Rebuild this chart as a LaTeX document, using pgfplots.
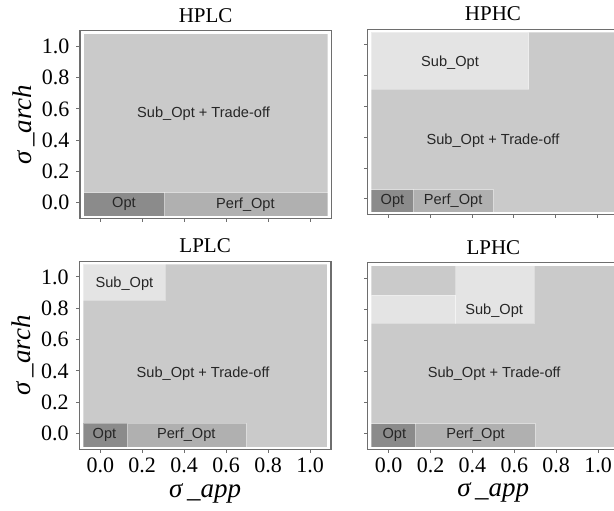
\documentclass[border=0pt]{standalone}
\usepackage{pgfplots}
\pgfplotsset{compat=1.18}
\usepackage{fontspec}
\setmainfont{Liberation Serif}
\newfontfamily\cellfont{Liberation Sans}
\definecolor{cOpt}{RGB}{139,139,139}
\definecolor{cPerf}{RGB}{176,176,176}
\definecolor{cMain}{RGB}{202,202,202}
\definecolor{cSub}{RGB}{228,228,228}
\definecolor{cFrame}{RGB}{110,110,110}
\newcommand{\rect}[5]{\addplot[fill=#5, draw=white, draw opacity=0.35, line width=0.4pt, mark=none] coordinates {(#1,#3) (#2,#3) (#2,#4) (#1,#4)} -- cycle;}
\newcommand{\lbl}[3]{\node[font=\cellfont\fontsize{7.3}{8}\selectfont, text=black!85] at (axis cs:#1,#2) {#3};}
\pgfplotsset{
  panel/.style={
    scale only axis,
    xmin=-0.1, xmax=1.1, ymin=-0.1, ymax=1.1,
    xtick={0,0.2,0.4,0.6,0.8,1.0},
    ytick={0,0.2,0.4,0.6,0.8,1.0},
    tick align=outside,
    xtick pos=bottom, ytick pos=left,
    major tick length=1.75pt,
    tick style={color=cFrame, line width=0.5pt},
    axis line style={draw=cFrame, line width=0.6pt},
    ticklabel style={font=\fontsize{11}{13}\selectfont},
    xticklabel style={inner sep=2.5pt},
    /pgf/number format/.cd, fixed, fixed zerofill, precision=1, assume math mode=true, /pgfplots/.cd,
    every axis title shift=0pt,
    title style={font=\fontsize{10.5}{12}\selectfont, inner sep=0pt, yshift=3.9pt},
    xlabel style={font=\fontsize{13.5}{15}\selectfont, inner sep=0pt, at={(axis description cs:0.5,-0.233)}, anchor=center},
    ylabel style={font=\fontsize{13.5}{15}\selectfont, at={(axis description cs:-0.225,0.5)}, anchor=center, rotate=0},
    no marks,
  }
}
\begin{document}
\begin{tikzpicture}
\useasboundingbox (0,0) rectangle (307pt,255pt);
\clip (0,0) rectangle (307pt,255pt);
% HPLC
\begin{axis}[panel, at={(40pt,145.85pt)}, anchor=south west, width=125.65pt, height=93.8pt,
  title={HPLC}, xticklabels={}, ylabel={\textit{σ\,\_arch}}]
\rect{-0.082}{1.082}{-0.085}{1.08}{cMain}
\rect{-0.082}{0.302}{-0.085}{0.064}{cOpt}
\rect{0.302}{1.082}{-0.085}{0.064}{cPerf}
\lbl{0.49}{0.57}{Sub\_Opt + Trade-off}
\lbl{0.11}{-0.01}{Opt}
\lbl{0.69}{-0.01}{Perf\_Opt}
\end{axis}
% HPHC
\begin{axis}[panel, at={(183.65pt,147.85pt)}, anchor=south west, width=125.65pt, height=92.5pt,
  title={HPHC}, xticklabels={}, yticklabels={}]
\rect{-0.082}{1.082}{-0.085}{1.08}{cMain}
\rect{-0.082}{0.67}{0.711}{1.08}{cSub}
\rect{-0.082}{0.12}{-0.085}{0.06}{cOpt}
\rect{0.12}{0.50}{-0.085}{0.06}{cPerf}
\lbl{0.295}{0.88}{Sub\_Opt}
\lbl{0.50}{0.38}{Sub\_Opt + Trade-off}
\lbl{0.02}{-0.01}{Opt}
\lbl{0.31}{-0.01}{Perf\_Opt}
\end{axis}
% LPLC
\begin{axis}[panel, at={(39.65pt,30.35pt)}, anchor=south west, width=125.85pt, height=94pt,
  title={LPLC}, xlabel={\textit{σ\,\_app}}, ylabel={\textit{σ\,\_arch}}]
\rect{-0.082}{1.082}{-0.085}{1.08}{cMain}
\rect{-0.082}{0.31}{0.85}{1.08}{cSub}
\rect{-0.082}{0.127}{-0.085}{0.068}{cOpt}
\rect{0.127}{0.695}{-0.085}{0.068}{cPerf}
\lbl{0.115}{0.96}{Sub\_Opt}
\lbl{0.49}{0.383}{Sub\_Opt + Trade-off}
\lbl{0.02}{-0.005}{Opt}
\lbl{0.41}{-0.005}{Perf\_Opt}
\end{axis}
% LPHC
\begin{axis}[panel, at={(183.85pt,30.35pt)}, anchor=south west, width=125.65pt, height=93.3pt,
  title={LPHC}, xlabel={\textit{σ\,\_app}}, yticklabels={}]
\rect{-0.082}{1.082}{-0.085}{1.08}{cMain}
\rect{-0.082}{0.32}{0.71}{0.89}{cSub}
\rect{0.32}{0.694}{0.71}{1.08}{cSub}
\rect{-0.082}{0.128}{-0.085}{0.064}{cOpt}
\rect{0.128}{0.70}{-0.085}{0.064}{cPerf}
\lbl{0.504}{0.79}{Sub\_Opt}
\lbl{0.504}{0.385}{Sub\_Opt + Trade-off}
\lbl{0.027}{-0.005}{Opt}
\lbl{0.415}{-0.005}{Perf\_Opt}
\end{axis}
\end{tikzpicture}
\end{document}
